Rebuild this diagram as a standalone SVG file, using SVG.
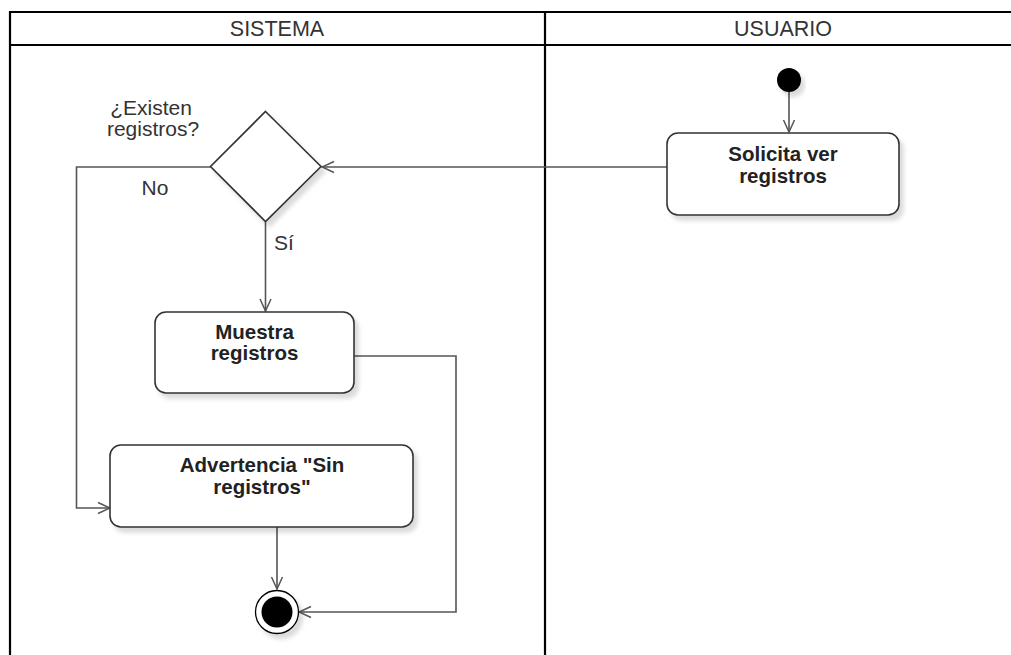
<svg xmlns="http://www.w3.org/2000/svg" width="1011" height="655" viewBox="0 0 1011 655">
  <style>
    .lane { fill: none; stroke: #000; stroke-width: 2.2; }
    .hdr { font-family: "Liberation Sans", Arial, sans-serif; font-size: 21.5px; fill: #333; text-anchor: middle; }
    .box { fill: #fff; stroke: #333; stroke-width: 1.6; filter: url(#shadow); }
    .act { font-family: "Liberation Sans", Arial, sans-serif; font-size: 20.5px; font-weight: bold; fill: #222; text-anchor: middle; }
    .lbl { font-family: "Liberation Sans", Arial, sans-serif; font-size: 21px; fill: #333; }
    .edge { fill: none; stroke: #555; stroke-width: 1.6; marker-end: url(#open); }
  </style>
  <defs>
    <filter id="shadow" x="-10%" y="-10%" width="130%" height="140%">
      <feDropShadow dx="4" dy="5" stdDeviation="2" flood-color="#000" flood-opacity="0.14"/>
    </filter>
    <marker id="open" viewBox="0 0 14 14" refX="13" refY="7" markerWidth="14" markerHeight="14" markerUnits="userSpaceOnUse" orient="auto">
      <path d="M1,1.5 L13,7 L1,12.5" fill="none" stroke="#555" stroke-width="1.5"/>
    </marker>
  </defs>

  <rect width="1011" height="655" fill="#fff"/>

  <!-- swimlanes -->
  <g id="lanes">
    <path class="lane" d="M10,660 V12 H1020 M10,45 H1020 M545,12 V660"/>
    <text class="hdr" x="277" y="36">SISTEMA</text>
    <text class="hdr" x="783" y="36">USUARIO</text>
  </g>

  <!-- connectors -->
  <g id="connectors">
    <path class="edge" d="M789,92 V132"/>
    <path class="edge" d="M667,167 H322"/>
    <path class="edge" d="M210.5,167 H76.5 V508 H110"/>
    <path class="edge" d="M265.5,222 V311"/>
    <path class="edge" d="M354,356 H456 V612 H299"/>
    <path class="edge" d="M277,527 V589"/>
    <text class="lbl" x="155" y="195" text-anchor="middle">No</text>
    <text class="lbl" x="274" y="250">Sí</text>
  </g>

  <g id="start">
    <circle cx="789" cy="80" r="12" fill="#000" filter="url(#shadow)"/>
  </g>

  <g id="solicita">
    <rect class="box" x="667" y="133" width="232" height="82" rx="11"/>
    <text class="act" x="783" y="161">Solicita ver</text>
    <text class="act" x="783" y="182.5">registros</text>
  </g>

  <g id="decision">
    <path d="M265.5,111.5 L321,166.5 L265.5,221.5 L210.5,166.5 Z" fill="#fff" stroke="#333" stroke-width="1.6" filter="url(#shadow)"/>
    <text class="lbl" x="151" y="115" text-anchor="middle">¿Existen</text>
    <text class="lbl" x="153" y="136" text-anchor="middle">registros?</text>
  </g>

  <g id="muestra">
    <rect class="box" x="155" y="312" width="199" height="81" rx="11"/>
    <text class="act" x="254.5" y="338.5">Muestra</text>
    <text class="act" x="254.5" y="360">registros</text>
  </g>

  <g id="advertencia">
    <rect class="box" x="110" y="445" width="303" height="82" rx="11"/>
    <text class="act" x="262" y="472">Advertencia "Sin</text>
    <text class="act" x="262" y="493.5">registros"</text>
  </g>

  <g id="end">
    <circle cx="277" cy="612" r="21.5" fill="#fff" stroke="#000" stroke-width="1.3" filter="url(#shadow)"/>
    <circle cx="277" cy="612" r="15.5" fill="#000"/>
  </g>
</svg>
